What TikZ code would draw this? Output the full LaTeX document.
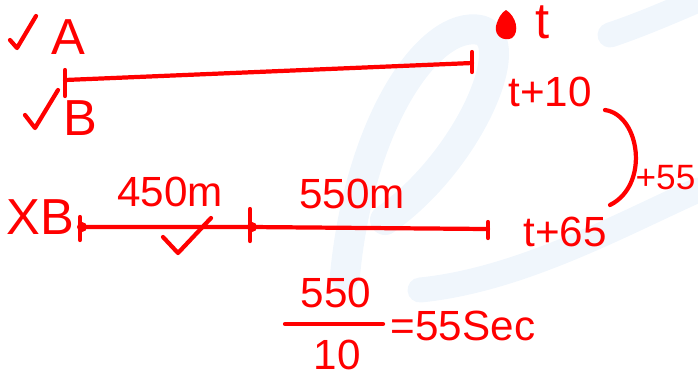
\documentclass[tikz,border=0pt]{standalone}
\usepackage{fontspec}
\setmainfont{Liberation Sans}
\usetikzlibrary{calc,positioning}
\definecolor{inkred}{RGB}{255,0,0}
\definecolor{wmblue}{RGB}{240,246,252}

\begin{document}
\begin{tikzpicture}[x=0.01cm, y=-0.01cm, line cap=round, line join=round,
    ink/.style={draw=inkred, line width=1.2pt},
    lbl/.style={text=inkred, font=\large, inner sep=0pt}]
  \useasboundingbox (0,0) rectangle (698,381);

  % Watermark
  \draw[wmblue, line width=0.3cm] (345,275) .. controls (360,120) and (430,20) .. (480,30)
    .. controls (520,40) and (470,160) .. (385,220);
  \draw[wmblue, line width=0.25cm] (420,290) .. controls (520,280) and (620,225) .. (698,190);
  \draw[wmblue, line width=0.25cm] (610,35) .. controls (640,25) and (670,12) .. (698,0);

  % Top segment
  \node[lbl, font=\Large] (lblA) at (68,37) {A};
  \node[lbl, font=\Large] (lblB) at (80,118) {B};
  \draw[ink] (10,40) -- (17,48) -- (36,16);
  \draw[ink] (25,115) -- (35,128) -- (58,90);
  \coordinate (topL) at (65,80);
  \coordinate (topR) at (472,63);
  \draw[ink] (topL) -- (topR);
  \draw[ink] ($(topL)+(0,-10)$) -- ($(topL)+(0,16)$);
  \draw[ink] ($(topR)+(0,-11)$) -- ($(topR)+(0,9)$);

  % Times on the right
  \fill[inkred] (506,10) .. controls (516,16) and (520,32) .. (512,38)
    .. controls (504,42) and (494,36) .. (496,26) .. controls (498,18) and (502,12) .. (506,10);
  \node[lbl, font=\Large] (tzero) at (543,22) {t};
  \node[lbl] (tten) at (550,92) {t+10};
  \node[lbl] (tsixfive) at (565,232) {t+65};
  \node[lbl, font=\normalsize, anchor=east] (tdiff) at (696,178) {+55};
  \coordinate (arcS) at (605,110);
  \coordinate (arcE) at (610,205);
  \draw[ink] (arcS) .. controls (640,115) and (650,185) .. (arcE);

  % Bottom segment
  \node[lbl, font=\Large] (lblXB) at (40,217) {XB};
  \coordinate (botL) at (82,227);
  \coordinate (botM) at (252,227);
  \coordinate (botR) at (488,229);
  \draw[ink] (botL) -- (botM) -- (botR);
  \fill[inkred] (botL) circle [radius=5];
  \fill[inkred] (botM) circle [radius=5];
  \draw[ink] ($(botL)+(-2,-10)$) -- ($(botL)+(-2,13)$);
  \draw[ink] ($(botM)+(-2,-18)$) -- ($(botM)+(-2,14)$);
  \draw[ink] ($(botR)+(0,-7)$) -- ($(botR)+(0,9)$);
  \node[lbl] (distA) at (170,192) {450m};
  \node[lbl] (distB) at (352,194) {550m};
  \draw[ink] (163,237) -- (178,253) -- (211,218);

  % Time for the last part
  \node[lbl] (num) at (336,293) {550};
  \node[lbl] (den) at (337,355) {10};
  \coordinate (barL) at (285,324);
  \coordinate (barR) at (383,324);
  \draw[ink] (barL) -- (barR);
  \node[lbl] (res) at (463,326) {=55Sec};
\end{tikzpicture}
\end{document}
